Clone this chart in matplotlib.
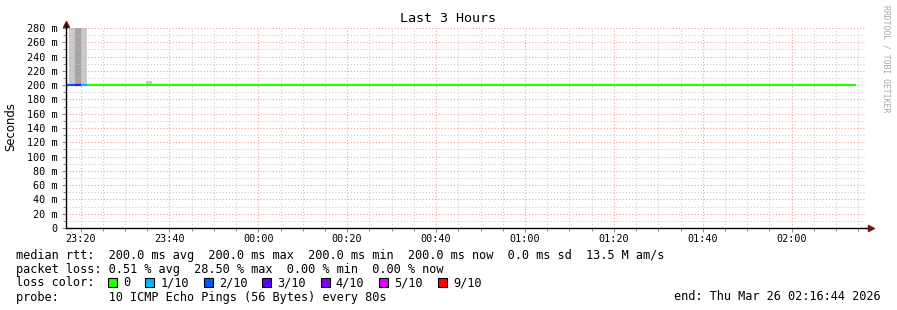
import matplotlib
matplotlib.use("Agg")
import matplotlib.pyplot as plt
import matplotlib.dates as mdates
from matplotlib.patches import Rectangle
from matplotlib.ticker import MultipleLocator, FuncFormatter
import pandas as pd

W, H = 897, 310
MONO = "DejaVu Sans Mono"

# time window of the graph
t_start = "2026-03-25 23:16:44"
t_end = "2026-03-26 02:16:44"

# median rtt (ms) per segment, and pings lost out of 10
seg_start = ["2026-03-25 23:16:44", "2026-03-25 23:18:45",
             "2026-03-25 23:20:06", "2026-03-25 23:21:27"]
seg_end = ["2026-03-25 23:18:45", "2026-03-25 23:20:06",
           "2026-03-25 23:21:27", "2026-03-26 02:14:29"]
seg_median = [200, 200, 200, 200]
seg_loss = [2, 3, 1, 0]

# smoke (spread of the individual pings), ms
smoke_start = ["2026-03-25 23:17:24", "2026-03-25 23:18:45",
               "2026-03-25 23:20:06", "2026-03-25 23:34:44"]
smoke_end = ["2026-03-25 23:18:45", "2026-03-25 23:20:06",
             "2026-03-25 23:21:27", "2026-03-25 23:36:05"]
smoke_low = [200, 200, 200, 200]
smoke_high = [300, 300, 300, 206]
smoke_density = [1, 2, 1, 1]

loss_labels = ["0", "1/10", "2/10", "3/10", "4/10", "5/10", "9/10"]
loss_levels = [0, 1, 2, 3, 4, 5, 9]

rtt_stats = "median rtt:  200.0 ms avg  200.0 ms max  200.0 ms min  200.0 ms now  0.0 ms sd  13.5 M am/s"
loss_stats = "packet loss: 0.51 % avg  28.50 % max  0.00 % min  0.00 % now"
probe_text = "probe:       10 ICMP Echo Pings (56 Bytes) every 80s"
end_text = "end: Thu Mar 26 02:16:44 2026"

loss_color = {0: "#26ff00", 1: "#00b8ff", 2: "#0059ff", 3: "#5e00ff",
              4: "#7e00ff", 5: "#dd00ff", 9: "#ff0000"}
smoke_color = {1: "#cacaca", 2: "#a4a4a4"}


def px(x, y):
    """pixel position -> figure fraction"""
    return x / W, 1 - y / H


def ts(s):
    return mdates.date2num(pd.Timestamp(s))


fig = plt.figure(figsize=(W / 100, H / 100), dpi=100)
fig.patch.set_facecolor("white")
ax = fig.add_axes([66 / W, (H - 228) / H, 800 / W, 200 / H])

# smoke
for s, e, lo, hi, d in zip(smoke_start, smoke_end, smoke_low, smoke_high, smoke_density):
    ax.add_patch(Rectangle((ts(s), lo), ts(e) - ts(s), hi - lo,
                           facecolor=smoke_color[d], edgecolor="none", zorder=1))

# median line coloured by loss
for s, e, m, l in zip(seg_start, seg_end, seg_median, seg_loss):
    ax.plot([ts(s), ts(e)], [m, m], color=loss_color[l], lw=1.6,
            solid_capstyle="butt", zorder=4)

ax.set_xlim(ts(t_start), ts(t_end))
ax.set_ylim(0, 280)

ax.xaxis.set_major_locator(mdates.MinuteLocator(byminute=[0, 20, 40]))
ax.xaxis.set_minor_locator(mdates.MinuteLocator(byminute=range(0, 60, 5)))
ax.xaxis.set_major_formatter(mdates.DateFormatter("%H:%M"))
ax.yaxis.set_major_locator(MultipleLocator(20))
ax.yaxis.set_minor_locator(MultipleLocator(10))
ax.yaxis.set_major_formatter(FuncFormatter(lambda v, p: "0" if v == 0 else f"{int(v)} m"))

ax.set_axisbelow(False)
ax.grid(which="major", color="#f29a9a", lw=0.75, ls=(0, (1, 2)), zorder=3)
ax.grid(which="minor", color="#c8c8c8", lw=0.75, ls=(0, (1, 2)), zorder=2)

for side in ["top", "right"]:
    ax.spines[side].set_visible(False)
for side in ["left", "bottom"]:
    ax.spines[side].set_color("black")
    ax.spines[side].set_linewidth(1.0)
    ax.spines[side].set_zorder(5)

ax.tick_params(which="both", direction="out", color="#888888", width=0.7)
ax.tick_params(which="major", length=3, pad=3)
ax.tick_params(which="minor", length=2)
ax.tick_params(axis="x", which="major", pad=1.5)
for lab in ax.get_xticklabels() + ax.get_yticklabels():
    lab.set_fontfamily(MONO)
    lab.set_fontsize(7.3)

# axis arrows
ax.plot([1.0, 1.006], [0, 0], color="black", lw=1.0, transform=ax.transAxes, clip_on=False)
ax.plot([1.006], [0], marker=">", ms=4.5, color="#7a1010", transform=ax.transAxes, clip_on=False)
ax.plot([0], [1.02], marker="^", ms=4.5, color="#7a1010", transform=ax.transAxes, clip_on=False)
ax.plot([0, 0], [1.0, 1.02], color="black", lw=1.0, transform=ax.transAxes, clip_on=False)

# titles
fig.text(*px(448, 19), "Last 3 Hours", family=MONO, fontsize=9.6, ha="center", va="center")
fig.text(*px(11, 127), "Seconds", family="DejaVu Sans", fontsize=8.4,
         rotation=90, ha="center", va="center")
fig.text(*px(886, 5), "RRDTOOL / TOBI OETIKER", family=MONO, fontsize=5.9,
         color="#a8a8a8", rotation=-90, ha="center", va="top")

# legend
fs = 8.55
cw = 7.14  # character advance in pixels
fig.text(*px(16, 255), rtt_stats, family=MONO, fontsize=fs, va="center")
fig.text(*px(16, 255 + 14), loss_stats, family=MONO, fontsize=fs, va="center")
fig.text(*px(16, 255 + 28), "loss color:", family=MONO, fontsize=fs, va="center")
fig.text(*px(16, 255 + 42), probe_text, family=MONO, fontsize=fs, va="center")
fig.text(*px(881, 255 + 42), end_text, family=MONO, fontsize=fs, va="center", ha="right")

bx = 108
for lab, lvl in zip(loss_labels, loss_levels):
    x0, y0 = px(bx, 282 + 4.5)
    fig.patches.append(Rectangle((x0, y0), 9 / W, 9 / H, transform=fig.transFigure,
                                 facecolor=loss_color[lvl], edgecolor="black", lw=0.8))
    fig.text(*px(bx + 15, 283), lab, family=MONO, fontsize=fs, va="center")
    bx = bx + 15 + len(lab) * cw + 15

fig.savefig("out.png", dpi=100, facecolor="white")
